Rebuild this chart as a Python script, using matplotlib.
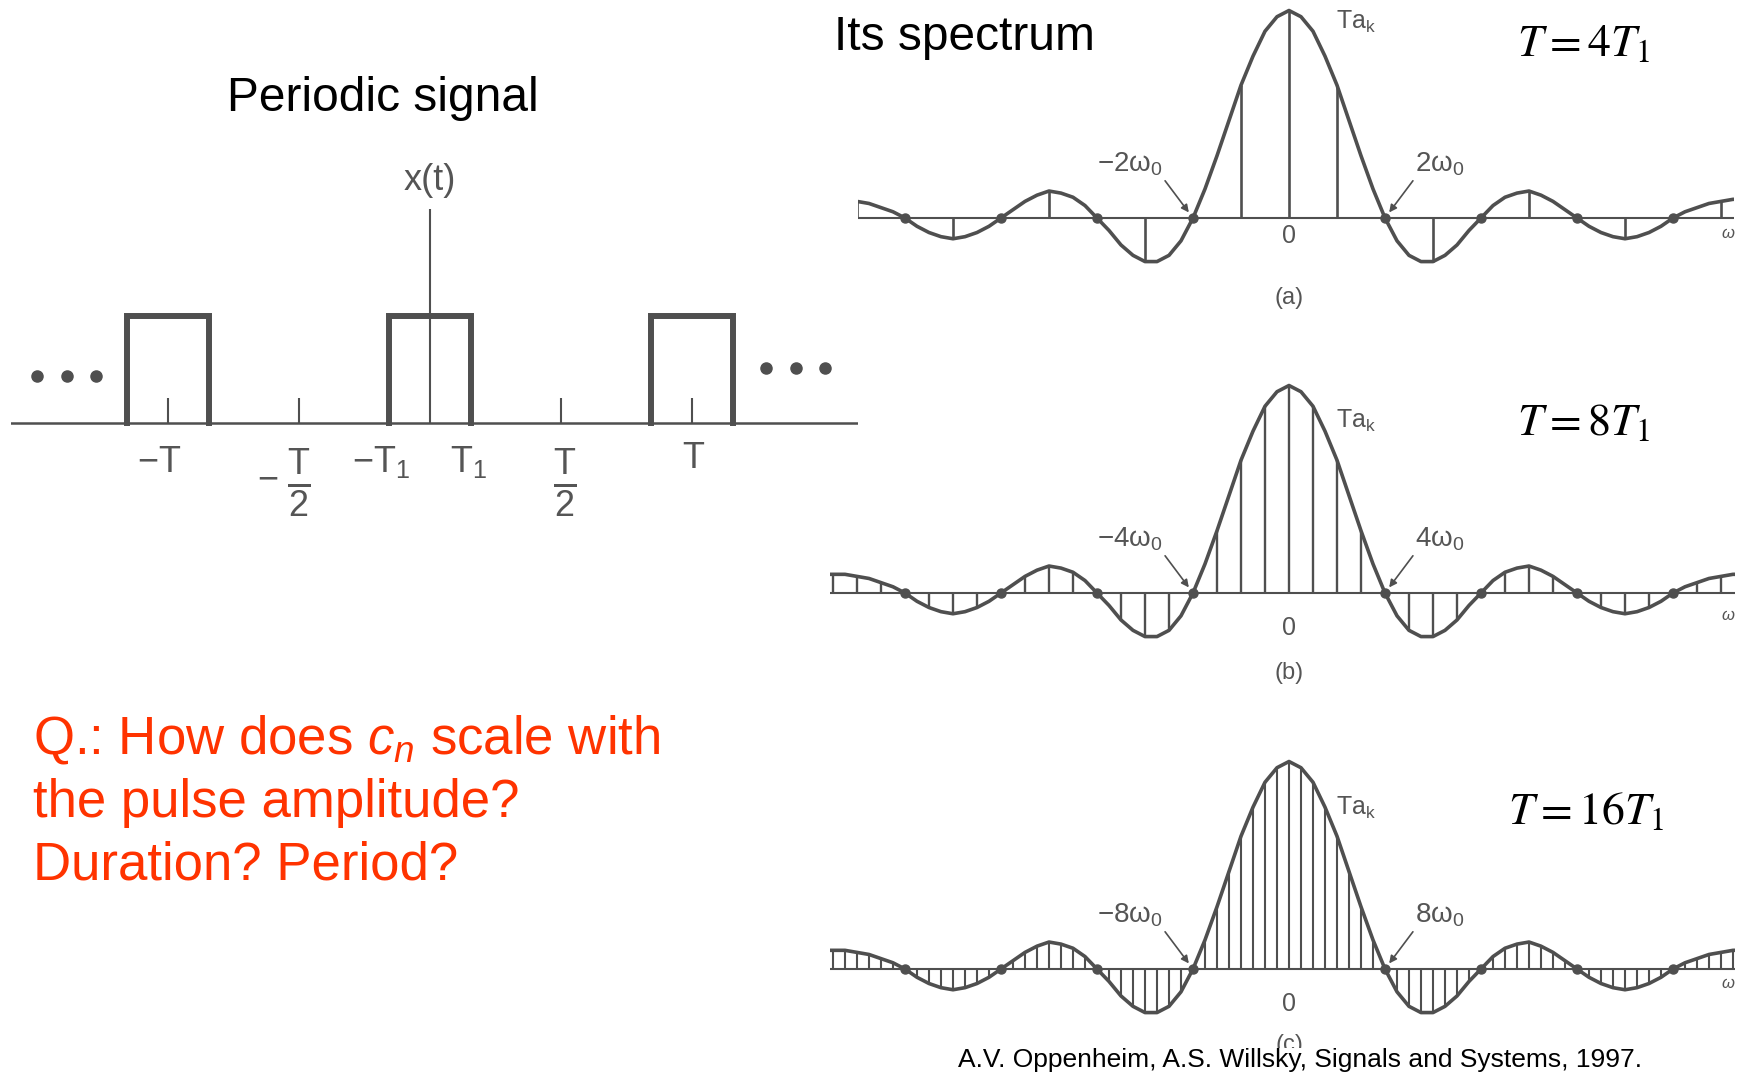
import matplotlib
matplotlib.use('Agg')
import matplotlib.pyplot as plt
import numpy as np

plt.rcParams['font.family'] = ['Liberation Sans', 'DejaVu Sans']
plt.rcParams['mathtext.fontset'] = 'custom'
plt.rcParams['mathtext.rm'] = 'Liberation Sans'
plt.rcParams['mathtext.it'] = 'Liberation Sans:italic'
plt.rcParams['mathtext.bf'] = 'Liberation Sans:bold'

W, H = 1739, 1074
GRAY = '#4f4f4f'
TXT = '#555555'
RED = '#ff3300'

# periodic rectangular signal (time in units of T)
T = 1.0
T1 = 0.157
pulse_centers = [-1.0, 0.0, 1.0]
pulse_amp = 1.0
tick_t = [-1.0, -0.5, 0.5, 1.0]
tick_h = 0.23
yaxis_top = 2.0
dots_left_t = [-1.50, -1.385, -1.275]
dots_left_y = 0.44
dots_right_t = [1.282, 1.397, 1.508]
dots_right_y = 0.51

# envelope T*a_k: one sample per harmonic of T = 16 T1, k = 0..40
env_half = [1.00, 0.97, 0.90, 0.78, 0.64, 0.47, 0.30, 0.14, 0.00,
            -0.11, -0.18, -0.21, -0.21, -0.18, -0.13, -0.06, 0.00,
            0.06, 0.10, 0.12, 0.13, 0.11, 0.08, 0.04, 0.00,
            -0.04, -0.07, -0.09, -0.10, -0.09, -0.07, -0.04, 0.00,
            0.03, 0.05, 0.07, 0.08, 0.09, 0.09, 0.09, 0.09]
ratios = [4, 8, 16]          # T / T1 for panels (a), (b), (c)
panel_tags = ['(a)', '(b)', '(c)']

fig = plt.figure(figsize=(W / 100, H / 100), dpi=100)


def px_axes(x0, x1, y0, y1):
    ax = fig.add_axes([x0 / W, 1 - y1 / H, (x1 - x0) / W, (y1 - y0) / H])
    ax.set_axis_off()
    return ax


def ftext(x, y, s, **kw):
    return fig.text(x / W, 1 - y / H, s, **kw)


# ---------------- left: periodic signal ----------------
ax = px_axes(11, 858, 150, 540)
ax.set_xlim(-1.599, 1.634)
ax.set_ylim(-1.093, 2.551)
ax.axhline(0, color=GRAY, lw=1.8)
for c in pulse_centers:
    ax.plot([c - T1, c - T1, c + T1, c + T1], [0, pulse_amp, pulse_amp, 0],
            color=GRAY, lw=4.3, solid_joinstyle='miter')
ax.vlines(tick_t, 0, tick_h, color=GRAY, lw=1.5)
ax.vlines(0, 0, yaxis_top, color=GRAY, lw=1.5)
ax.plot(dots_left_t, [dots_left_y] * 3, 'o', color=GRAY, ms=8)
ax.plot(dots_right_t, [dots_right_y] * 3, 'o', color=GRAY, ms=8)

lab_kw = dict(textcoords='offset pixels', color=TXT, fontsize=26)
frac_kw = dict(textcoords='offset pixels', color=TXT, fontsize=37)
ax.annotate(r'$\mathregular{-T}$', xy=(-T, 0), xytext=(13, -49), ha='right', va='baseline', **lab_kw)
ax.annotate('\u2212', xy=(-T / 2, 0), xytext=(-31, -66), ha='center', va='baseline', **lab_kw)
ax.annotate(r'$\frac{\mathregular{T}}{\mathregular{2}}$', xy=(-T / 2, 0), xytext=(0, -61),
            ha='center', va='center', **frac_kw)
ax.annotate(r'$\mathregular{-T_1}$', xy=(-T1, 0), xytext=(-8, -49), ha='center', va='baseline', **lab_kw)
ax.annotate(r'$\mathregular{T_1}$', xy=(T1, 0), xytext=(-2, -49), ha='center', va='baseline', **lab_kw)
ax.annotate(r'$\frac{\mathregular{T}}{\mathregular{2}}$', xy=(T / 2, 0), xytext=(4, -61),
            ha='center', va='center', **frac_kw)
ax.annotate(r'$\mathregular{T}$', xy=(T, 0), xytext=(2, -45), ha='center', va='baseline', **lab_kw)
ax.annotate('x(t)', xy=(0, yaxis_top), xytext=(0, 28), ha='center', va='center', **lab_kw)

ftext(383, 111, 'Periodic signal', fontsize=34.5, ha='center', va='baseline', color='black')
ftext(834, 50, 'Its spectrum', fontsize=34.5, ha='left', va='baseline', color='black')

# ---------------- right: spectra ----------------
env_k = np.arange(-40, 41)
env_val = np.array(env_half[:0:-1] + env_half)

boxes = [(858, 1734, 0, 340, 218), (830, 1735, 340, 700, 593), (830, 1735, 700, 1074, 969)]
zero_off = [18, 35, 35]
tag_off = [80, 80, 76]
omega_off = [15, 22, 14]
tak_y = [22, 421, 808]
eq_pos = [(1517, 22), (1517, 401), (1508, 790)]
stem_lw = [1.9, 1.7, 1.5]

for i, m in enumerate(ratios):
    x0, x1, y0, y1, base = boxes[i]
    step = 16 // m
    ppk = 48.0 * 4 / m
    ax = px_axes(x0, x1, y0, y1)
    ax.set_xlim((x0 - 1289) / ppk, (x1 - 1289) / ppk)
    ax.set_ylim((base - y1) / 207.5, (base - y0) / 207.5)
    ax.axhline(0, color=GRAY, lw=1.5)
    ax.plot(env_k / step, env_val, color=GRAY, lw=2.6, solid_joinstyle='round')
    sel = env_k % step == 0
    ax.vlines(env_k[sel] / step, 0, env_val[sel], color=GRAY, lw=stem_lw[i])
    zeros = (env_val == 0) & (env_k != 0)
    ax.plot(env_k[zeros] / step, env_val[zeros], 'o', color=GRAY, ms=6.5)

    z = m // 2
    arr = dict(arrowstyle='-|>', color=GRAY, lw=1.2, shrinkA=0, shrinkB=5, mutation_scale=11)
    ax.annotate(r'$\mathregular{-%d\omega_0}$' % z, xy=(-z, 0), xytext=(-30, 40),
                textcoords='offset pixels', ha='right', va='bottom', color=TXT, fontsize=20,
                arrowprops=dict(relpos=(1, 0), **arr))
    ax.annotate(r'$\mathregular{%d\omega_0}$' % z, xy=(z, 0), xytext=(30, 40),
                textcoords='offset pixels', ha='left', va='bottom', color=TXT, fontsize=20,
                arrowprops=dict(relpos=(0, 0), **arr))
    ax.annotate('0', xy=(0, 0), xytext=(0, -zero_off[i]), textcoords='offset pixels',
                ha='center', va='center', color=TXT, fontsize=18)
    ax.annotate(panel_tags[i], xy=(0, 0), xytext=(0, -tag_off[i]), textcoords='offset pixels',
                ha='center', va='center', color=TXT, fontsize=17)
    ftext(1728, base + omega_off[i], r'$\omega$', fontsize=12, ha='center', va='center', color=TXT)
    ftext(1336, tak_y[i], r'$\mathregular{Ta_k}$', fontsize=18, ha='left', va='center', color=TXT)
    ftext(eq_pos[i][0], eq_pos[i][1], r'$T = %dT_1$' % m, fontsize=33, ha='left', va='top',
          color='black', math_fontfamily='stix')

# ---------------- question + citation ----------------
q_lines = [r'Q.: How does $c_n$ scale with', 'the pulse amplitude?', 'Duration? Period?']
for j, s in enumerate(q_lines):
    ftext(33, 754 + 62.5 * j, s, fontsize=38, color=RED, ha='left', va='baseline')

ftext(1300, 1060, 'A.V. Oppenheim, A.S. Willsky, Signals and Systems, 1997.', fontsize=19,
      ha='center', va='center', color='black', zorder=10,
      bbox=dict(facecolor='white', edgecolor='none', pad=0))

fig.savefig('out.png', dpi=100)
